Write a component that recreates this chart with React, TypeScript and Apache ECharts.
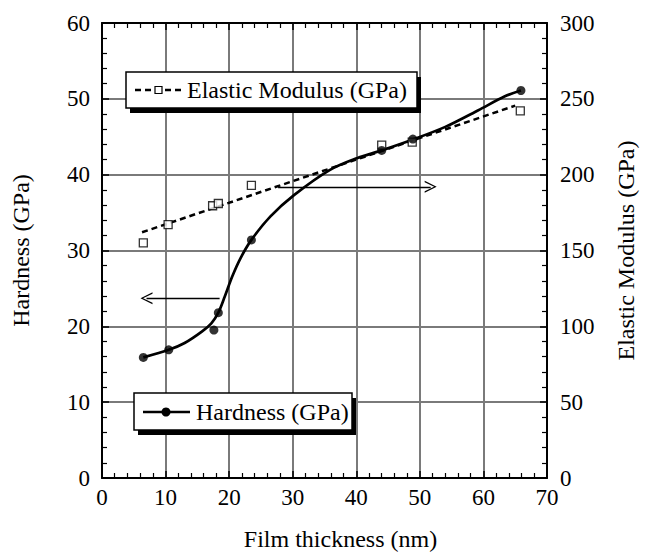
import React, { useEffect, useRef } from 'react';
import * as echarts from 'echarts';

// Measured hardness points
const hardThickness = [6.5, 10.5, 17.6, 18.3, 23.5, 44.0, 48.9, 65.9];
const hardness = [15.9, 16.9, 19.5, 21.8, 31.4, 43.2, 44.7, 51.1];

// Smooth guide curve for hardness
const curveThickness = [6.5, 10.5, 13.0, 15.7, 17.2, 18.3, 19.3, 20.5, 21.8, 23.5, 26.5, 30.2, 35.8, 40.2, 44.0, 48.8, 54.0, 59.2, 63.3, 65.9];
const curveHardness = [15.9, 16.9, 17.8, 19.3, 20.4, 21.8, 23.9, 26.6, 29.0, 31.4, 34.5, 37.3, 40.6, 42.2, 43.2, 44.6, 46.3, 48.5, 50.3, 51.1];

// Elastic modulus points
const modThickness = [6.5, 10.4, 17.4, 18.3, 23.5, 44.0, 48.8, 65.8];
const modulus = [155, 167, 179.5, 181, 193, 219.5, 221.5, 242];

// Linear trend for modulus (end points)
const fitThickness = [6.3, 65.0];
const fitModulus = [162, 245.5];

// Annotation arrows (data coordinates on hardness axis)
const leftArrowX = [18.5, 7.0];
const leftArrowY = 23.7;
const rightArrowX = [27.7, 51.7];
const rightArrowY = 38.4;

const FONT = '"Liberation Serif", "Times New Roman", serif';
const ARROW = 'path://M0,12 L5,0 L10,12 L8.8,12 L5,2.6 L1.2,12 Z';

export default function App() {
  const ref = useRef<HTMLDivElement>(null);
  useEffect(() => {
    document.body.style.margin = '0';
    if (!ref.current) return;
    const chart = echarts.init(ref.current, undefined, { renderer: 'svg' });

    const axisLine = { show: true, onZero: false, lineStyle: { color: '#000', width: 2 } };
    const axisTick = { show: true, inside: true, length: 7, lineStyle: { color: '#000', width: 1.5 } };
    const minorTick = { show: true, splitNumber: 5, length: 5, lineStyle: { color: '#000', width: 1.2 } };
    const label = { fontSize: 23, fontFamily: FONT, color: '#000' };
    const nameStyle = { fontSize: 24, fontFamily: FONT, color: '#000' };
    const grid = { show: true, lineStyle: { color: '#7a7a7a', width: 2 } };

    const option: any = {
      animation: false,
      backgroundColor: '#fff',
      grid: { left: 102, top: 23, width: 458, height: 455 },
      xAxis: [
        {
          type: 'value', min: 0, max: 70, interval: 10, position: 'bottom',
          axisLine, axisTick, minorTick, splitLine: grid,
          axisLabel: { ...label, margin: 8 },
          name: 'Film thickness (nm)', nameLocation: 'middle', nameGap: 49,
          nameTextStyle: { ...nameStyle, padding: [0, 0, 0, 32] },
        },
        {
          type: 'value', min: 0, max: 70, interval: 10, position: 'top',
          axisLine, axisTick, minorTick, splitLine: { show: false },
          axisLabel: { show: false },
        },
      ],
      yAxis: [
        {
          type: 'value', min: 0, max: 60, interval: 10, position: 'left',
          axisLine, axisTick, minorTick, splitLine: grid,
          axisLabel: { ...label, margin: 12 },
          name: 'Hardness (GPa)', nameLocation: 'middle', nameGap: 69,
          nameTextStyle: nameStyle,
        },
        {
          type: 'value', min: 0, max: 300, interval: 50, position: 'right',
          axisLine, axisTick, minorTick, splitLine: { show: false },
          axisLabel: { ...label, margin: 13 },
          name: 'Elastic Modulus (GPa)', nameLocation: 'middle', nameGap: 67,
          nameTextStyle: nameStyle,
        },
      ],
      series: [
        {
          type: 'line', xAxisIndex: 0, yAxisIndex: 0,
          data: curveThickness.map((x, i) => [x, curveHardness[i]]),
          smooth: 0.3, showSymbol: false, symbol: 'none',
          lineStyle: { color: '#000', width: 2.7 }, z: 3,
          markLine: {
            silent: true, symbol: ['none', ARROW], symbolSize: 12,
            label: { show: false },
            lineStyle: { color: '#000', width: 1.3, type: 'solid' },
            data: [
              [{ coord: [leftArrowX[0], leftArrowY] }, { coord: [leftArrowX[1], leftArrowY] }],
              [{ coord: [rightArrowX[0], rightArrowY] }, { coord: [rightArrowX[1], rightArrowY] }],
            ],
          },
        },
        {
          type: 'line', xAxisIndex: 0, yAxisIndex: 1,
          data: fitThickness.map((x, i) => [x, fitModulus[i]]),
          showSymbol: false, symbol: 'none',
          lineStyle: { color: '#000', width: 2.5, type: [6, 4] }, z: 3,
        },
        {
          type: 'scatter', xAxisIndex: 0, yAxisIndex: 1,
          data: modThickness.map((x, i) => [x, modulus[i]]),
          symbol: 'rect', symbolSize: 8,
          itemStyle: { color: '#fff', borderColor: '#000', borderWidth: 1.3 }, z: 4,
        },
        {
          type: 'scatter', xAxisIndex: 0, yAxisIndex: 0,
          data: hardThickness.map((x, i) => [x, hardness[i]]),
          symbol: 'circle', symbolSize: 9,
          itemStyle: { color: '#000' }, z: 5,
        },
      ],
      graphic: [
        { type: 'rect', z: 100, shape: { x: 130, y: 77, width: 291, height: 36 }, style: { fill: '#000' } },
        { type: 'rect', z: 101, shape: { x: 126, y: 72, width: 291, height: 36 }, style: { fill: '#fff', stroke: '#000', lineWidth: 1.5 } },
        { type: 'line', z: 102, shape: { x1: 135, y1: 90, x2: 185, y2: 90 }, style: { stroke: '#000', lineWidth: 2.5, lineDash: [6, 4] } },
        { type: 'rect', z: 103, shape: { x: 155, y: 86.5, width: 7, height: 7 }, style: { fill: '#fff', stroke: '#000', lineWidth: 1.2 } },
        { type: 'text', z: 103, x: 187, y: 90, style: { text: 'Elastic Modulus (GPa)', fontSize: 24, fontFamily: FONT, fill: '#000', verticalAlign: 'middle' } },

        { type: 'rect', z: 100, shape: { x: 138, y: 398, width: 218, height: 37 }, style: { fill: '#000' } },
        { type: 'rect', z: 101, shape: { x: 134, y: 393, width: 218, height: 37 }, style: { fill: '#fff', stroke: '#000', lineWidth: 1.5 } },
        { type: 'line', z: 102, shape: { x1: 143, y1: 412, x2: 190, y2: 412 }, style: { stroke: '#000', lineWidth: 2.5 } },
        { type: 'circle', z: 103, shape: { cx: 166, cy: 412, r: 4.5 }, style: { fill: '#000' } },
        { type: 'text', z: 103, x: 196, y: 412, style: { text: 'Hardness (GPa)', fontSize: 24, fontFamily: FONT, fill: '#000', verticalAlign: 'middle' } },
      ],
    };
    chart.setOption(option);
    return () => chart.dispose();
  }, []);
  return <div ref={ref} style={{ width: 646, height: 560 }} />;
}
